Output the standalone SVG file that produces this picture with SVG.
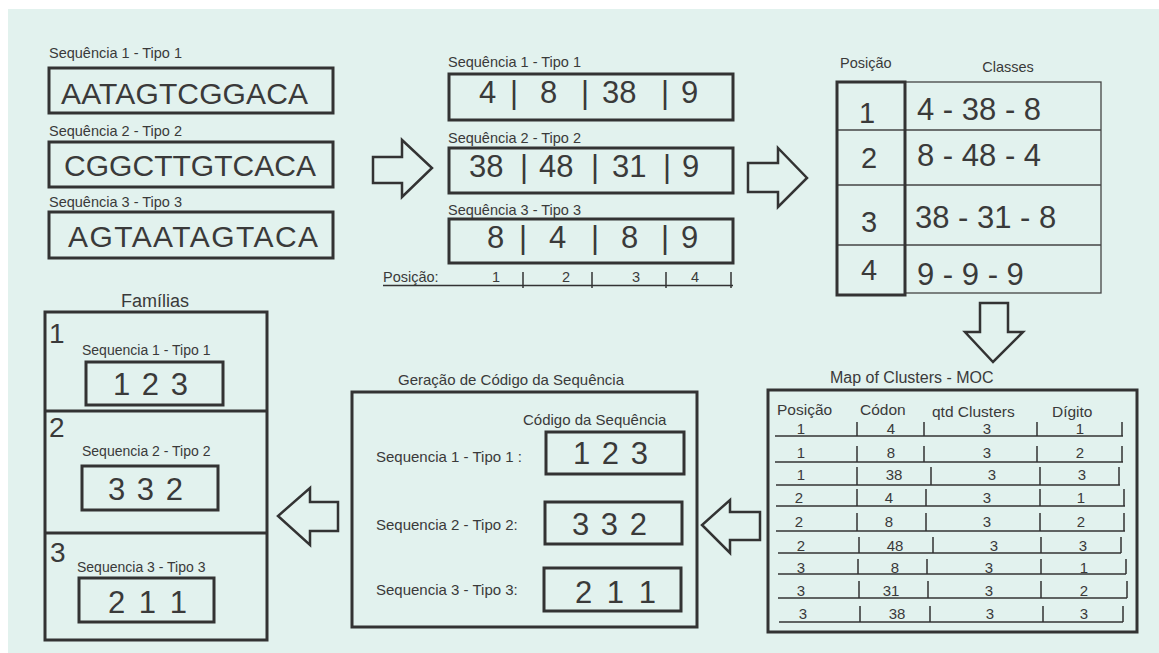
<svg xmlns="http://www.w3.org/2000/svg" width="1159" height="653" viewBox="0 0 1159 653">
<style>
text{font-family:"Liberation Sans",Arial,sans-serif;fill:#3a3a3a}
.lbl{font-size:14.5px}
.seq{font-size:30px}
.num{font-size:31px}
.bx{fill:none;stroke:#333;stroke-width:3}
.thin{fill:none;stroke:#444;stroke-width:1.3}
.arr{fill:#E2F2EE;stroke:#333;stroke-width:2.5;stroke-linejoin:miter}
.mv{font-size:15px;text-anchor:middle}
.ln{stroke:#333;stroke-width:1.5}
</style>
<rect x="0" y="0" width="1159" height="653" fill="#ffffff"/>
<rect x="8" y="9" width="1151" height="644" fill="#E2F2EE"/>

<g id="sequencias">
<text class="lbl" x="49" y="58">Sequência 1 - Tipo 1</text>
<rect class="bx" x="49" y="68" width="284" height="45"/>
<text class="seq" x="61" y="104" textLength="247">AATAGTCGGACA</text>
<text class="lbl" x="49" y="136">Sequência 2 - Tipo 2</text>
<rect class="bx" x="49" y="142" width="284" height="45"/>
<text class="seq" x="64" y="176" textLength="252">CGGCTTGTCACA</text>
<text class="lbl" x="49" y="207">Sequência 3 - Tipo 3</text>
<rect class="bx" x="49" y="212" width="284" height="46"/>
<text class="seq" x="68" y="247" textLength="250">AGTAATAGTACA</text>
</g>

<g id="codons">
<text class="lbl" x="448" y="67">Sequência 1 - Tipo 1</text>
<rect class="bx" x="449" y="74" width="284" height="46"/>
<text class="num" y="103"><tspan x="479">4</tspan><tspan x="510">|</tspan><tspan x="540">8</tspan><tspan x="581">|</tspan><tspan x="602">38</tspan><tspan x="661">|</tspan><tspan x="681">9</tspan></text>
<text class="lbl" x="448" y="143">Sequência 2 - Tipo 2</text>
<rect class="bx" x="449" y="148" width="284" height="45"/>
<text class="num" y="177"><tspan x="469">38</tspan><tspan x="520">|</tspan><tspan x="539">48</tspan><tspan x="591">|</tspan><tspan x="612">31</tspan><tspan x="663">|</tspan><tspan x="682">9</tspan></text>
<text class="lbl" x="448" y="215">Sequência 3 - Tipo 3</text>
<rect class="bx" x="449" y="219" width="284" height="44"/>
<text class="num" y="248"><tspan x="487">8</tspan><tspan x="519">|</tspan><tspan x="549">4</tspan><tspan x="591">|</tspan><tspan x="621">8</tspan><tspan x="661">|</tspan><tspan x="681">9</tspan></text>
<text class="lbl" x="383" y="282">Posição:</text>
<line class="ln" x1="383" y1="285.5" x2="733" y2="285.5"/>
<g class="ln"><line x1="523" y1="272" x2="523" y2="288"/><line x1="592" y1="272" x2="592" y2="288"/><line x1="666" y1="272" x2="666" y2="288"/><line x1="731" y1="272" x2="731" y2="288"/></g>
<text class="lbl" y="282" text-anchor="middle"><tspan x="496">1</tspan><tspan x="566">2</tspan><tspan x="636">3</tspan><tspan x="695">4</tspan></text>
</g>

<g id="classes">
<text class="lbl" x="840" y="68">Posição</text>
<text class="lbl" x="1008" y="72" text-anchor="middle">Classes</text>
<rect class="thin" x="905" y="82" width="196" height="211"/>
<line class="thin" x1="837" y1="130" x2="1101" y2="130"/>
<line class="thin" x1="837" y1="185" x2="1101" y2="185"/>
<line class="thin" x1="837" y1="245" x2="1101" y2="245"/>
<rect class="bx" x="837" y="82" width="68" height="213"/>
<g font-size="29"><text x="867" y="123" text-anchor="middle">1</text><text x="869" y="168" text-anchor="middle">2</text><text x="869" y="232" text-anchor="middle">3</text><text x="869" y="280" text-anchor="middle">4</text></g>
<text class="num" x="917" y="120">4 - 38 - 8</text>
<text class="num" x="917" y="166">8 - 48 - 4</text>
<text class="num" x="915" y="228">38 - 31 - 8</text>
<text class="num" x="917" y="285">9 - 9 - 9</text>
</g>

<g id="moc">
<text x="830" y="383" font-size="16">Map of Clusters - MOC</text>
<rect class="bx" x="768" y="390" width="369" height="242"/>
<g font-size="15.5"><text x="777" y="415">Posição</text><text x="860" y="415">Códon</text><text x="932" y="417">qtd Clusters</text><text x="1052" y="417">Dígito</text></g>
<g class="mv">
<text y="434"><tspan x="801">1</tspan><tspan x="891">4</tspan><tspan x="987">3</tspan><tspan x="1080">1</tspan></text>
<text y="458"><tspan x="801">1</tspan><tspan x="891">8</tspan><tspan x="987">3</tspan><tspan x="1080">2</tspan></text>
<text y="480"><tspan x="801">1</tspan><tspan x="894">38</tspan><tspan x="992">3</tspan><tspan x="1082">3</tspan></text>
<text y="503"><tspan x="799">2</tspan><tspan x="889">4</tspan><tspan x="987">3</tspan><tspan x="1081">1</tspan></text>
<text y="527"><tspan x="799">2</tspan><tspan x="889">8</tspan><tspan x="987">3</tspan><tspan x="1081">2</tspan></text>
<text y="551"><tspan x="801">2</tspan><tspan x="895">48</tspan><tspan x="994">3</tspan><tspan x="1083">3</tspan></text>
<text y="573"><tspan x="801">3</tspan><tspan x="895">8</tspan><tspan x="989">3</tspan><tspan x="1084">1</tspan></text>
<text y="596"><tspan x="801">3</tspan><tspan x="891">31</tspan><tspan x="989">3</tspan><tspan x="1084">2</tspan></text>
<text y="619"><tspan x="803">3</tspan><tspan x="897">38</tspan><tspan x="990">3</tspan><tspan x="1084">3</tspan></text>
</g>
<g class="ln">
<line x1="775" y1="436" x2="1123" y2="436"/>
<line x1="775" y1="462" x2="1123" y2="462"/>
<line x1="776" y1="485" x2="1120" y2="485"/>
<line x1="776" y1="506" x2="1125" y2="506"/>
<line x1="776" y1="531" x2="1125" y2="531"/>
<line x1="778" y1="553" x2="1121" y2="553"/>
<line x1="778" y1="574" x2="1126" y2="574"/>
<line x1="778" y1="598" x2="1127" y2="598"/>
<line x1="779" y1="622" x2="1123" y2="622"/>
<path d="M857 422V436M924 422V436M1037 422V436M1122 422V436
M857 446V462M924 446V462M1037 446V462M1122 446V462
M857 467V485M931 467V485M1040 467V485M1119 467V485
M857 489V506M926 489V506M1040 489V506M1124 489V506
M857 513V531M926 513V531M1040 513V531M1124 513V531
M859 537V553M933 537V553M1041 537V553M1121 537V553
M858 559V574M927 559V574M1041 559V574M1126 559V574
M859 581V598M928 581V598M1041 581V598M1127 581V598
M860 606V622M930 606V622M1043 606V622M1123 606V622" fill="none"/>
</g>
</g>

<g id="geracao">
<text x="398" y="385" font-size="15">Geração de Código da Sequência</text>
<rect class="bx" x="352" y="392" width="345" height="235"/>
<text x="523" y="425" font-size="15">Código da Sequência</text>
<text x="376" y="462" font-size="15">Sequencia 1 - Tipo 1 :</text>
<rect class="bx" x="546" y="432" width="138" height="42"/>
<text class="num" x="573" y="464" word-spacing="3">1 2 3</text>
<text x="376" y="530" font-size="15">Sequencia 2 - Tipo 2:</text>
<rect class="bx" x="545" y="502" width="137" height="42"/>
<text class="num" x="572" y="535" word-spacing="3">3 3 2</text>
<text x="376" y="595" font-size="15">Sequencia 3 - Tipo 3:</text>
<rect class="bx" x="544" y="568" width="137" height="43"/>
<text class="num" x="575" y="603" word-spacing="6">2 1 1</text>
</g>

<g id="familias">
<text x="155" y="307" font-size="18" text-anchor="middle">Famílias</text>
<rect class="bx" x="45" y="312" width="222" height="328"/>
<line class="bx" x1="45" y1="411" x2="267" y2="411"/>
<line class="bx" x1="45" y1="533" x2="267" y2="533"/>
<text x="49" y="343" font-size="28">1</text>
<text x="82" y="355" font-size="14">Sequencia 1 - Tipo 1</text>
<rect class="bx" x="86" y="362" width="137" height="43"/>
<text class="num" x="113" y="395" word-spacing="3">1 2 3</text>
<text x="49" y="437" font-size="28">2</text>
<text x="82" y="456" font-size="14">Sequencia 2 - Tipo 2</text>
<rect class="bx" x="82" y="466" width="136" height="44"/>
<text class="num" x="108" y="500" word-spacing="3">3 3 2</text>
<text x="50" y="562" font-size="28">3</text>
<text x="77" y="572" font-size="14">Sequencia 3 - Tipo 3</text>
<rect class="bx" x="79" y="578" width="135" height="44"/>
<text class="num" x="108" y="613" word-spacing="5">2 1 1</text>
</g>

<g id="connectors">
<path class="arr" d="M373 157H402V140L432 168L402 197V183H373Z"/>
<path class="arr" d="M748 163H778V148L807 178L778 207V192H748Z"/>
<path class="arr" d="M980 303H1008V332H1023L993 362L965 332H980Z"/>
<path class="arr" d="M760 512H730V500L702 525L730 553V540H760Z"/>
<path class="arr" d="M338 502H310V488L278 516L310 545V531H338Z"/>
</g>
</svg>
